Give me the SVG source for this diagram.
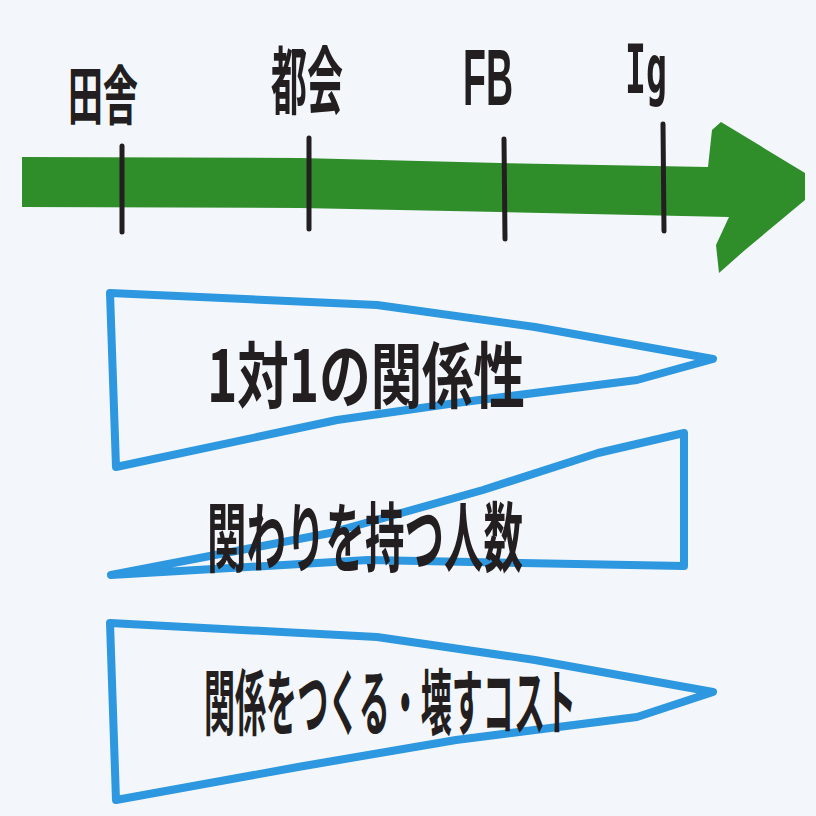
<svg xmlns="http://www.w3.org/2000/svg" width="816" height="816" viewBox="0 0 816 816">
<style>
.lbl{font-family:"Noto Sans CJK JP","Liberation Sans",sans-serif;font-weight:700;fill:#231f20}
.lat{font-family:"Liberation Sans","Noto Sans CJK JP",sans-serif;font-weight:700;fill:#231f20}
.tick{stroke:#231f20;stroke-width:5;stroke-linecap:round;fill:none}
.pen{fill:none;stroke:#2d97df;stroke-width:8;stroke-linejoin:round;stroke-linecap:round}
</style>
<rect width="816" height="816" fill="#f3f7fc"/>
<g id="timeline">
<path d="M22,157 L300,158 L500,163 L708,167 L712,130 L721,122 L805,173 L805,200 L745,250 L719,273 L716,245 L729,217 L500,212 L300,208 L22,207 Z" fill="#2f8d2a"/>
</g>
<g id="connectors">
<line class="tick" x1="122" y1="146" x2="122" y2="232"/>
<line class="tick" x1="309" y1="138" x2="309" y2="229"/>
<line class="tick" x1="504" y1="139" x2="505" y2="239"/>
<line class="tick" x1="663" y1="124" x2="664" y2="231"/>
</g>
<g id="label-inaka"><text class="lbl" x="103" y="119" font-size="64" text-anchor="middle" textLength="70" lengthAdjust="spacingAndGlyphs">田舎</text></g>
<g id="label-tokai"><text class="lbl" x="307" y="108" font-size="74" text-anchor="middle" textLength="72" lengthAdjust="spacingAndGlyphs">都会</text></g>
<g id="label-fb"><text class="lat" x="488" y="105" font-size="80" text-anchor="middle" textLength="50" lengthAdjust="spacingAndGlyphs">FB</text></g>
<g id="label-ig"><text x="646" y="93" font-size="68" font-family="DejaVu Sans Mono, monospace" font-weight="700" fill="#231f20" text-anchor="middle" textLength="42" lengthAdjust="spacingAndGlyphs">Ig</text></g>
<g id="node-one-to-one">
<path class="pen" d="M110,293 L377,305 L535,327 L713,359 L637,380 L456,403 L337,420 L116,467 Z"/>
<text class="lbl" x="207" y="402" font-size="72" textLength="318" lengthAdjust="spacingAndGlyphs">1対1の関係性</text>
</g>
<g id="node-people">
<path class="pen" d="M111,575 L330,533 L483,490 L598,453 L684,433 L684,566 L368,560 Z"/>
<text class="lbl" x="207" y="566" font-size="76" textLength="316" lengthAdjust="spacingAndGlyphs">関わりを持つ人数</text>
</g>
<g id="node-cost">
<path class="pen" d="M110,623 L377,637 L535,660 L713,692 L637,717 L456,740 L298,767 L116,800 Z"/>
<text class="lbl" x="204" y="729" font-size="72" textLength="372" lengthAdjust="spacingAndGlyphs">関係をつくる・壊すコスト</text>
</g>
</svg>
